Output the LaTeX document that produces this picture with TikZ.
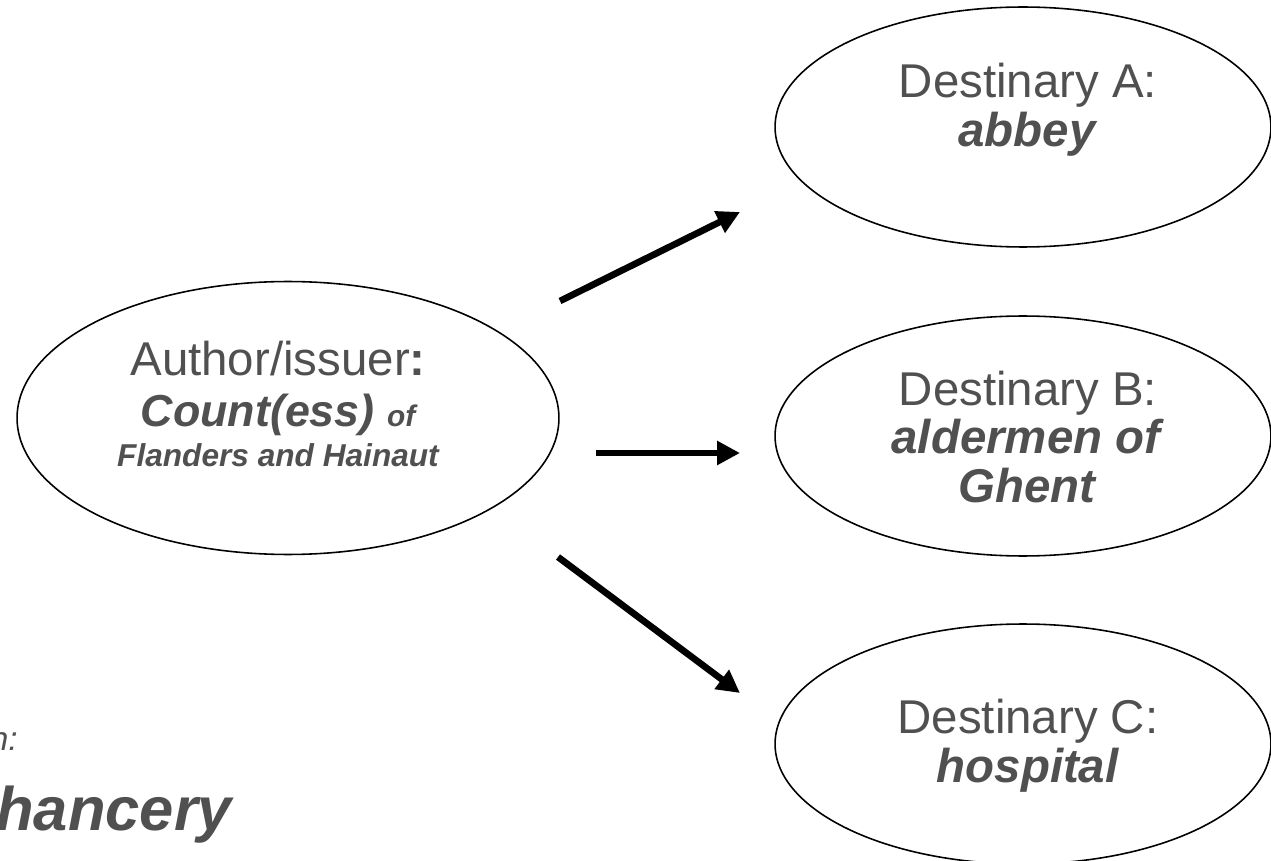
\documentclass[tikz,border=0pt]{standalone}
\usepackage{fontspec}
\setmainfont{Liberation Sans}
\usepackage{tikz}
\usetikzlibrary{shapes.geometric,arrows.meta,positioning}
\definecolor{textgray}{RGB}{80,80,80}
\newcommand{\fixedlines}{\lineskiplimit=-50pt\relax\lineskip=0pt\relax}

\begin{document}
\begin{tikzpicture}[x=0.02cm, y=-0.02cm,
  auth/.style={draw, ellipse, line width=0.9pt, minimum width=10.84cm, minimum height=5.46cm, inner sep=0pt},
  dest/.style={draw, ellipse, line width=0.9pt, minimum width=9.92cm, minimum height=4.8cm, inner sep=0pt},
  lbl/.style={text=textgray, align=center, inner sep=0pt, font=\fontsize{27}{27.8}\selectfont},
  flow/.style={line width=3.8pt, -{Triangle[length=13pt,width=13pt]}}]
\useasboundingbox (0,0) rectangle (1271,861);

% the ellipses
\node[auth] (author) at (288,418) {};
\node[dest] (destA) at (1023,127) {};
\node[dest] (destB) at (1023,436) {};
\node[dest] (destC) at (1023,744) {};

% their texts
\node[lbl, font=\fontsize{27}{23.2}\selectfont] (authtxt) at (278,404)
  {\fixedlines Author/issuer\textbf{:}\\[5.7pt]
   {\fontsize{25.5}{23.2}\selectfont\bfseries\itshape Count(ess) {\fontsize{17}{23.2}\selectfont of}}\\
   {\fontsize{18}{23.2}\selectfont\bfseries\itshape Flanders and Hainaut}};
\node[lbl] (txtA) at (1028,110) {\fixedlines Destinary A:\\ \textbf{\textit{abbey}}};
\node[lbl] (txtB) at (1028,437) {\fixedlines Destinary B:\\ \textbf{\textit{aldermen of}}\\ \textbf{\textit{Ghent}}};
\node[lbl] (txtC) at (1028,746) {\fixedlines Destinary C:\\ \textbf{\textit{hospital}}};

% bottom left, cut by the page edge
\node[lbl, anchor=base east, font=\fontsize{19}{20}\selectfont\itshape] (origA) at (18,750) {n:};
\node[lbl, anchor=base west, font=\fontsize{35}{36}\selectfont\bfseries\itshape] (origB) at (-4,830) {hancery};

% arrows
\coordinate (arrA0) at (560,301);
\coordinate (arrA1) at (740,212);
\coordinate (arrB0) at (596,453);
\coordinate (arrB1) at (740,453);
\coordinate (arrC0) at (558,557);
\coordinate (arrC1) at (740,693);
\draw[flow] (arrA0) -- (arrA1);
\draw[flow] (arrB0) -- (arrB1);
\draw[flow] (arrC0) -- (arrC1);
\end{tikzpicture}
\end{document}
